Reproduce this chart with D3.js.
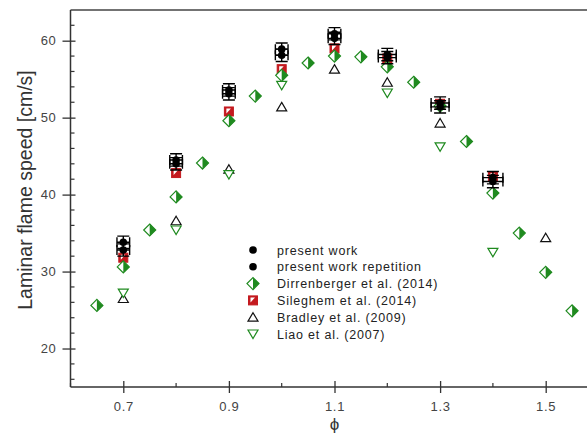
<!DOCTYPE html>
<html lang="en">
<head>
<meta charset="UTF-8">
<title>Laminar flame speed</title>
<script src="https://d3js.org/d3.v7.min.js"></script>
<style>
  body { margin: 0; background: #fff; font-family: "Liberation Sans", Arial, sans-serif; }
  svg { display: block; }
  .tick-label { font-family: "Liberation Sans", Arial, sans-serif; font-size: 13px; fill: #444; letter-spacing: 0.7px; }
  .legend-text { font-size: 12.5px; fill: #222; letter-spacing: 0.8px; }
</style>
</head>
<body>
<svg id="chart" width="587" height="436"></svg>
<script>
  // Data
  const phiPW = [0.7, 0.8, 0.9, 1.0, 1.1, 1.2, 1.3, 1.4];
  const slPW = [33.8, 44.5, 53.6, 58.9, 60.9, 58.2, 51.9, 42.2];
  const slRep = [32.8, 44.0, 53.1, 58.1, 60.3, 57.8, 51.4, 41.7];
  const yErrPW = [0.8, 0.8, 0.8, 0.8, 0.8, 0.8, 0.8, 0.8];
  const xErrPW = [0.012, 0.012, 0.012, 0.012, 0.012, 0.017, 0.017, 0.019];

  const phiDir = [0.65, 0.7, 0.75, 0.8, 0.85, 0.9, 0.95, 1.0, 1.05, 1.1, 1.15, 1.2, 1.25, 1.3, 1.35, 1.4, 1.45, 1.5, 1.55];
  const slDir = [25.6, 30.6, 35.4, 39.7, 44.1, 49.6, 52.8, 55.5, 57.1, 58.0, 57.9, 56.6, 54.6, 51.5, 46.9, 40.2, 35.0, 29.9, 24.9];

  const phiSil = [0.7, 0.8, 0.9, 1.0, 1.1, 1.2, 1.3, 1.4];
  const slSil = [31.8, 42.8, 50.8, 56.3, 59.0, 57.7, 51.8, 42.4];

  const phiBra = [0.7, 0.8, 0.9, 1.0, 1.1, 1.2, 1.3, 1.5];
  const slBra = [26.5, 36.6, 43.3, 51.4, 56.3, 54.6, 49.3, 34.4];

  const phiLiao = [0.7, 0.8, 0.9, 1.0, 1.2, 1.3, 1.4];
  const slLiao = [27.2, 35.4, 42.6, 54.2, 53.2, 46.2, 32.5];

  const xTicks = [0.7, 0.9, 1.1, 1.3, 1.5];
  const xMinor = [0.6, 0.8, 1.0, 1.2, 1.4, 1.6];
  const yTicks = [20, 30, 40, 50, 60];
  const yMinor = d3.range(16, 64, 2).filter(v => v % 10 !== 0);

  const legendLabels = ["present work", "present work repetition", "Dirrenberger et al. (2014)",
    "Sileghem et al. (2014)", "Bradley et al. (2009)", "Liao et al. (2007)"];

  const green = "#1f8a1f", red = "#c41a1f", axisCol = "#333";

  const svg = d3.select("#chart");
  const x = d3.scaleLinear().domain([0.6, 1.6]).range([70.5, 598.5]);
  const y = d3.scaleLinear().domain([15, 64]).range([387, 9.9]);

  // frame: top border
  svg.append("line").attr("x1", x(0.6)).attr("x2", 600).attr("y1", y(64)).attr("y2", y(64))
    .attr("stroke", "#444").attr("stroke-width", 1.5);

  // axes
  const xAxis = svg.append("g").attr("transform", `translate(0,${y(15)})`);
  xAxis.call(d3.axisBottom(x).tickValues(xTicks).tickSize(6).tickFormat(d3.format(".1f")));
  xAxis.select(".domain").attr("stroke", axisCol).attr("stroke-width", 1.5).attr("d", `M${x(0.6)},0H600`);
  xAxis.selectAll(".tick line").attr("stroke", axisCol).attr("stroke-width", 1.3).attr("y1", -6).attr("y2", 6);
  xAxis.selectAll(".tick text").attr("class", "tick-label").attr("y", 15);
  xAxis.selectAll(".minor").data(xMinor).enter().append("line")
    .attr("x1", d => x(d)).attr("x2", d => x(d)).attr("y1", 0).attr("y2", -4)
    .attr("stroke", axisCol).attr("stroke-width", 1.2);

  const yAxis = svg.append("g").attr("transform", `translate(${x(0.6)},0)`);
  yAxis.call(d3.axisLeft(y).tickValues(yTicks).tickSize(8));
  yAxis.select(".domain").attr("stroke", axisCol).attr("stroke-width", 1.5).attr("d", `M0,${y(64)}V${y(15)}`);
  yAxis.selectAll(".tick line").attr("stroke", axisCol).attr("stroke-width", 1.3).attr("x1", -8).attr("x2", 5);
  yAxis.selectAll(".tick text").attr("class", "tick-label").attr("x", -14);
  yAxis.selectAll(".minor").data(yMinor).enter().append("line")
    .attr("x1", 0).attr("x2", 4).attr("y1", d => y(d)).attr("y2", d => y(d))
    .attr("stroke", axisCol).attr("stroke-width", 1.2);

  // axis titles
  svg.append("text").attr("transform", "translate(32,190) rotate(-90)")
    .attr("text-anchor", "middle").attr("font-size", 19.5).attr("fill", "#333")
    .text("Laminar flame speed [cm/s]");
  svg.append("text").attr("x", x(1.1)).attr("y", 430).attr("text-anchor", "middle")
    .attr("font-size", 17).attr("fill", "#333").text("\u03d5");

  // marker drawers
  function triUp(g, cx, cy, col) {
    g.append("path").attr("d", `M${cx},${cy - 4.5}L${cx + 5},${cy + 4}L${cx - 5},${cy + 4}Z`)
      .attr("fill", "#fff").attr("stroke", col).attr("stroke-width", 1.2);
  }
  function triDown(g, cx, cy, col) {
    g.append("path").attr("d", `M${cx - 5},${cy - 4}L${cx + 5},${cy - 4}L${cx},${cy + 4.5}Z`)
      .attr("fill", "#fff").attr("stroke", col).attr("stroke-width", 1.2);
  }
  function halfSquare(g, cx, cy) {
    g.append("rect").attr("x", cx - 4.5).attr("y", cy - 4.5).attr("width", 9).attr("height", 9)
      .attr("fill", red).attr("stroke", red).attr("stroke-width", 1);
    g.append("path").attr("d", `M${cx - 2.5},${cy - 3}L${cx + 2},${cy - 3}L${cx - 2.5},${cy + 2}Z`).attr("fill", "#fff");
  }
  function halfDiamond(g, cx, cy) {
    g.append("path").attr("d", `M${cx},${cy - 6}L${cx + 6},${cy}L${cx},${cy + 6}L${cx - 6},${cy}Z`)
      .attr("fill", "#fff").attr("stroke", green).attr("stroke-width", 1.2);
    g.append("path").attr("d", `M${cx},${cy - 6}L${cx + 6},${cy}L${cx},${cy + 6}Z`).attr("fill", green);
  }
  function dot(g, cx, cy) {
    g.append("circle").attr("cx", cx).attr("cy", cy).attr("r", 3.8).attr("fill", "#000");
  }

  const marks = svg.append("g");
  phiBra.forEach((p, i) => triUp(marks, x(p), y(slBra[i]), "#111"));
  phiLiao.forEach((p, i) => triDown(marks, x(p), y(slLiao[i]), green));
  phiSil.forEach((p, i) => halfSquare(marks, x(p), y(slSil[i])));
  phiDir.forEach((p, i) => halfDiamond(marks, x(p), y(slDir[i])));

  // present work with error bars
  function errorDots(vals) {
    phiPW.forEach((p, i) => {
      const cx = x(p), cy = y(vals[i]);
      const y0 = y(vals[i] - yErrPW[i]), y1 = y(vals[i] + yErrPW[i]);
      const x0 = x(p - xErrPW[i]), x1 = x(p + xErrPW[i]);
      const eb = marks.append("g").attr("stroke", "#000").attr("stroke-width", 1.4).attr("fill", "none");
      eb.append("path").attr("d", `M${cx},${y0}V${y1}M${cx - 6},${y0}H${cx + 6}M${cx - 6},${y1}H${cx + 6}`);
      eb.append("path").attr("d", `M${x0},${cy}H${x1}M${x0},${cy - 5}V${cy + 5}M${x1},${cy - 5}V${cy + 5}`);
      dot(marks, cx, cy);
    });
  }
  errorDots(slPW);
  errorDots(slRep);

  // legend
  const legend = svg.append("g");
  const lx = 253, ly0 = 250, dy = 16.8;
  const drawers = [
    (g, cx, cy) => dot(g, cx, cy),
    (g, cx, cy) => dot(g, cx, cy),
    halfDiamond,
    halfSquare,
    (g, cx, cy) => triUp(g, cx, cy, "#111"),
    (g, cx, cy) => triDown(g, cx, cy, green)
  ];
  legendLabels.forEach((lab, i) => {
    const cy = ly0 + i * dy;
    drawers[i](legend, lx, cy);
    legend.append("text").attr("class", "legend-text").attr("x", 277).attr("y", cy + 4.5).text(lab);
  });
</script>
</body>
</html>
